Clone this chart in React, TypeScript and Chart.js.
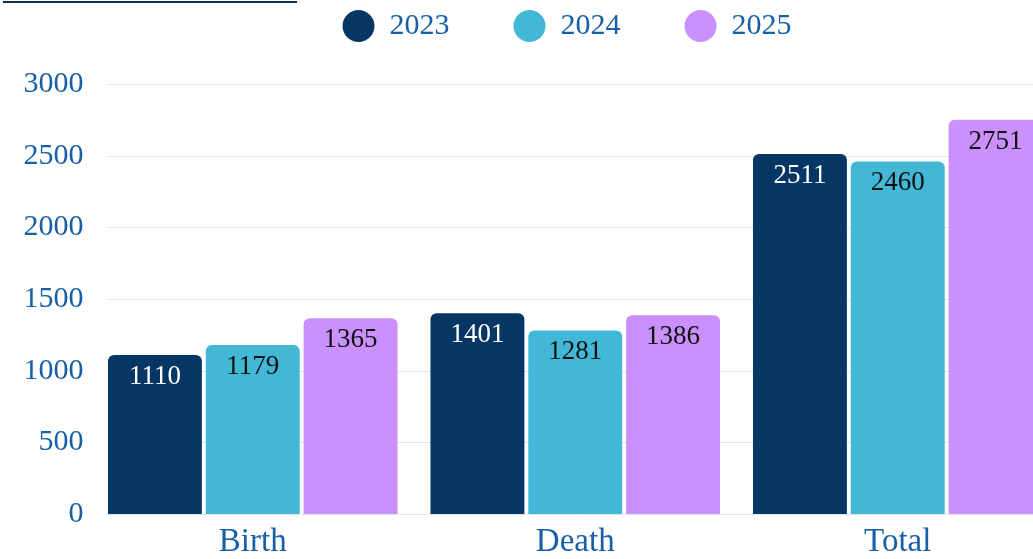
import React, { useEffect, useRef } from "react";
import { Chart, registerables } from "chart.js";

Chart.register(...registerables);

const categories = ["Birth", "Death", "Total"];
const seriesLabels = ["2023", "2024", "2025"];
const values2023 = [1110, 1401, 2511];
const values2024 = [1179, 1281, 2460];
const values2025 = [1365, 1386, 2751];
const yTickValues = [0, 500, 1000, 1500, 2000, 2500, 3000];
const seriesColors = ["#063764", "#42b8d6", "#c990fe"];
const labelColors = ["#ffffff", "#111111", "#111111"];

const FONT = "'Liberation Serif', 'Times New Roman', serif";
const TEXT_BLUE = "#1560a8";

const gridPlugin = {
  id: "customGrid",
  beforeDatasetsDraw(chart: any) {
    const y = chart.scales.y;
    const first = chart.getDatasetMeta(0).data[0];
    if (!first) return;
    const left = first.x - first.width / 2;
    const ctx = chart.ctx;
    ctx.save();
    ctx.strokeStyle = "#dde6ef";
    ctx.lineWidth = 1;
    y.ticks.forEach((t: any) => {
      const py = Math.round(y.getPixelForValue(t.value)) + 0.5;
      ctx.beginPath();
      ctx.moveTo(left, py);
      ctx.lineTo(chart.chartArea.right, py);
      ctx.stroke();
    });
    ctx.restore();
  },
};

const valueLabelPlugin = {
  id: "valueLabels",
  afterDatasetsDraw(chart: any) {
    const ctx = chart.ctx;
    ctx.save();
    ctx.font = `27px ${FONT}`;
    ctx.textAlign = "center";
    ctx.textBaseline = "middle";
    chart.data.datasets.forEach((ds: any, i: number) => {
      const meta = chart.getDatasetMeta(i);
      ctx.fillStyle = labelColors[i];
      meta.data.forEach((el: any, j: number) => {
        ctx.fillText(String(ds.data[j]), el.x, el.y + 22);
      });
    });
    ctx.restore();
  },
};

const legendSpacer = {
  id: "legendSpacer",
  beforeLayout(chart: any) {
    const lg = chart.legend;
    if (lg && !lg._spacerPatched) {
      const orig = lg.fit;
      lg.fit = function () {
        orig.call(this);
        this.height += 33;
      };
      lg._spacerPatched = true;
    }
  },
};

export default function App() {
  const ref = useRef<HTMLCanvasElement | null>(null);

  useEffect(() => {
    if (!ref.current) return;
    const datasetsValues = [values2023, values2024, values2025];
    const chart = new Chart(ref.current, {
      type: "bar",
      data: {
        labels: categories,
        datasets: seriesLabels.map((label, i) => ({
          label,
          data: datasetsValues[i],
          backgroundColor: seriesColors[i],
          borderWidth: 0,
          borderRadius: 6,
          borderSkipped: "bottom",
          categoryPercentage: 0.91,
          barPercentage: 0.96,
        })),
      },
      options: {
        responsive: true,
        maintainAspectRatio: false,
        animation: false,
        layout: { padding: { top: -53, left: 0, right: 0, bottom: 0 } },
        plugins: {
          legend: {
            position: "top",
            labels: {
              usePointStyle: true,
              pointStyle: "circle",
              pointStyleWidth: 32,
              boxHeight: 22.6,
              padding: 64,
              color: TEXT_BLUE,
              font: { size: 30, family: FONT },
            },
          },
          tooltip: { enabled: false },
        },
        scales: {
          x: {
            grid: { display: false, drawTicks: false },
            border: { display: false },
            ticks: { color: TEXT_BLUE, font: { size: 33, family: FONT }, padding: 9 },
            afterFit: (s: any) => {
              s.height = 45;
            },
          },
          y: {
            min: 0,
            max: 3000,
            grid: { display: false, drawTicks: false },
            border: { display: false },
            afterBuildTicks: (s: any) => {
              s.ticks = yTickValues.map((v) => ({ value: v }));
            },
            ticks: {
              color: TEXT_BLUE,
              font: { size: 30, family: FONT },
              padding: 8,
              callback: (v: any) => String(v),
            },
            afterFit: (s: any) => {
              s.width = 91.5;
            },
          },
          yRight: {
            type: "linear",
            position: "right",
            min: 0,
            max: 1,
            grid: { display: false, drawTicks: false },
            border: { display: false },
            ticks: { display: false },
            afterFit: (s: any) => {
              s.width = 75;
            },
          },
        },
      },
      plugins: [gridPlugin, valueLabelPlugin, legendSpacer],
    });
    return () => chart.destroy();
  }, []);

  return (
    <div
      style={{
        position: "fixed",
        left: 0,
        top: 0,
        width: 1033,
        height: 559,
        overflow: "hidden",
        background: "#ffffff",
      }}
    >
      <div style={{ position: "relative", width: 1134, height: 559 }}>
        <canvas ref={ref} style={{ display: "block" }} />
      </div>
      <div
        style={{
          position: "absolute",
          left: 3,
          top: 1,
          width: 294,
          height: 2,
          background: "#0a2f55",
        }}
      />
    </div>
  );
}
